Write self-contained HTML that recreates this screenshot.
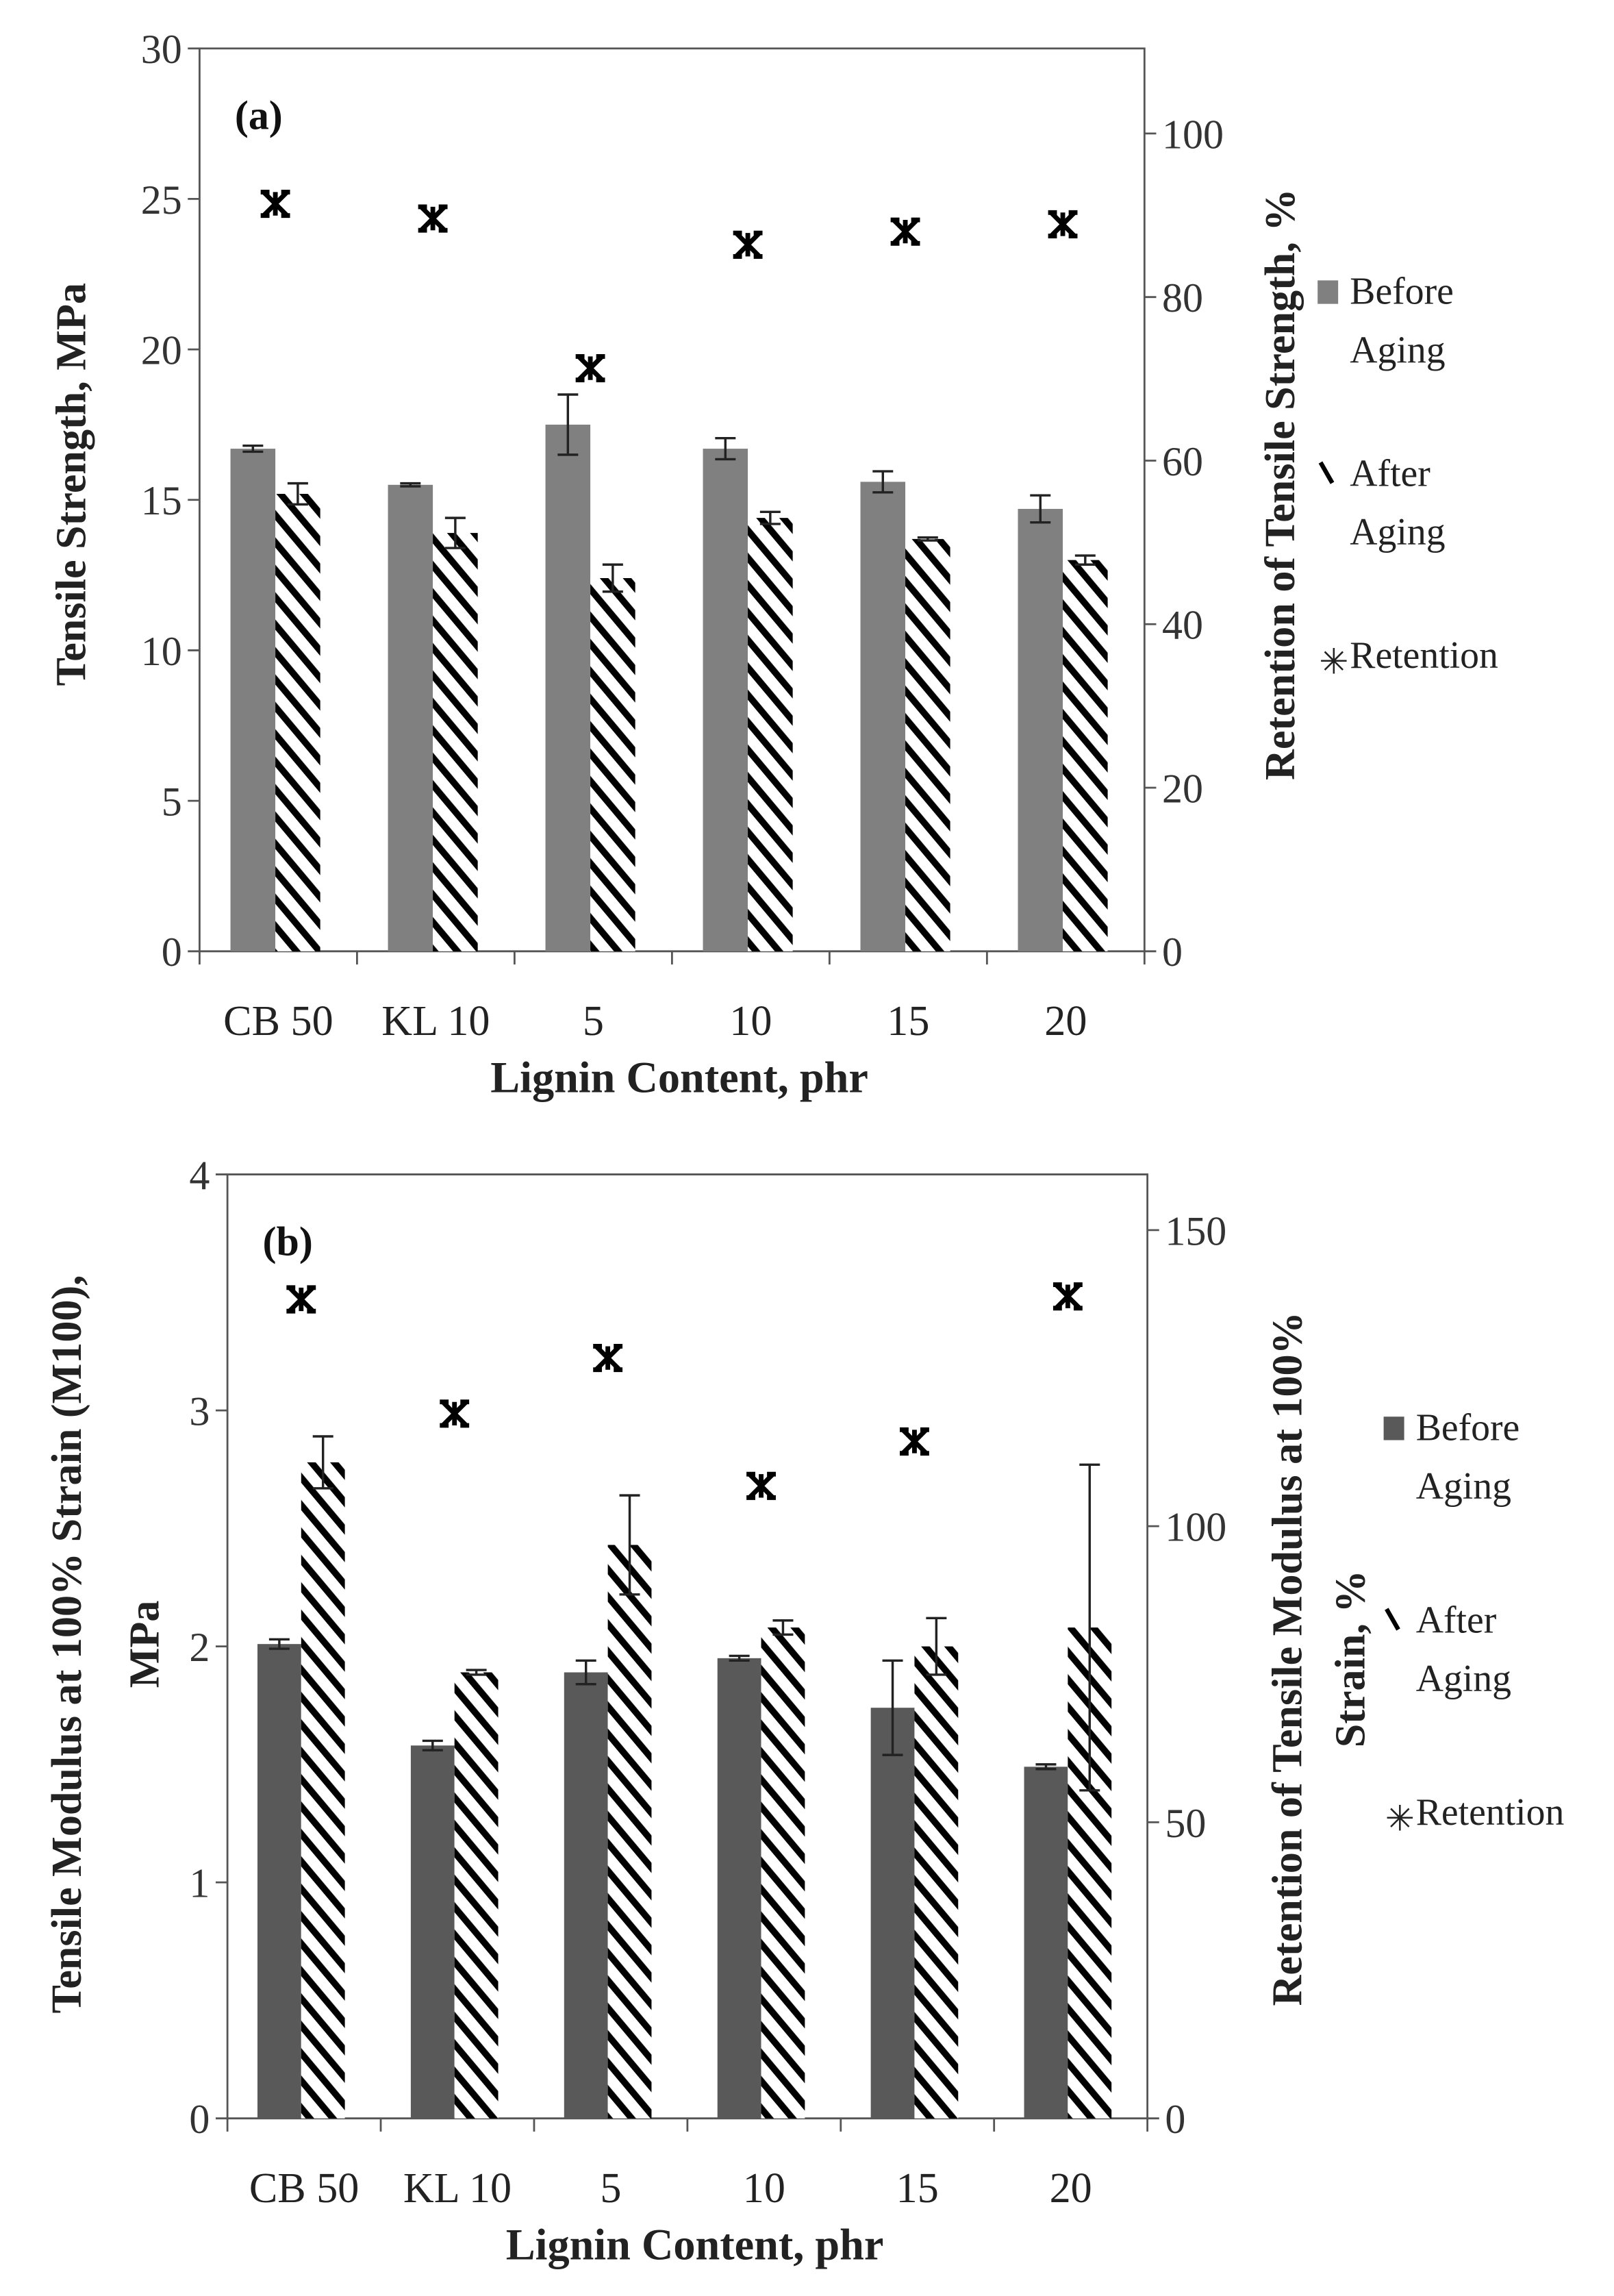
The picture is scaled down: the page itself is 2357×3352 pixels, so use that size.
<!DOCTYPE html>
<html><head><meta charset="utf-8"><style>
html,body{margin:0;padding:0;background:#fff;}
svg{display:block;}
text{font-family:"Liberation Serif",serif;}
</style></head><body>
<svg id="chart" xmlns="http://www.w3.org/2000/svg" width="2357" height="3352" viewBox="0 0 1100 1564" preserveAspectRatio="none">
<defs>
<pattern id="hatch" patternUnits="userSpaceOnUse" width="12" height="12" patternTransform="rotate(-40)">
<rect width="12" height="12" fill="#fff"/><rect x="0" y="0" width="4.5" height="12" fill="#000"/>
</pattern>
</defs>
<g id="root"></g>
</svg>
<script>
const categories = ["CB 50","KL 10","5","10","15","20"];
const beforeA = [16.7,15.5,17.5,16.7,15.6,14.7];
const beforeErrA = [0.1,0.05,1.0,0.35,0.35,0.45];
const afterA = [15.2,13.9,12.4,14.4,13.7,13.0];
const afterErrA = [0.35,0.5,0.45,0.2,0.05,0.15];
const retentionA = [91.4,89.6,71.3,86.4,88.0,88.9];
const leftTicksA = [0,5,10,15,20,25,30];
const rightTicksA = [0,20,40,60,80,100];
const beforeB = [2.01,1.58,1.89,1.95,1.74,1.49];
const beforeErrB = [0.02,0.02,0.05,0.01,0.2,0.01];
const afterB = [2.78,1.89,2.43,2.08,2.0,2.08];
const afterErrB = [0.11,0.01,0.21,0.03,0.12,0.69];
const retentionB = [138.3,119,128.4,106.8,114.3,138.8];
const leftTicksB = [0,1,2,3,4];
const rightTicksB = [0,50,100,150];

const NS="http://www.w3.org/2000/svg";
const root=document.getElementById('root');
function el(tag,attrs,parent,txt){const e=document.createElementNS(NS,tag);for(const k in attrs)e.setAttribute(k,attrs[k]);if(txt!==undefined)e.textContent=txt;(parent||root).appendChild(e);return e;}

function star(g,x,y){
  const s=8;
  const p=el('path',{d:`M${x-s} ${y-s}L${x+s} ${y+s}M${x+s} ${y-s}L${x-s} ${y+s}M${x} ${y-s}L${x} ${y+s}M${x-s-2} ${y-s}L${x-s+4} ${y-s}M${x+s-4} ${y-s}L${x+s+2} ${y-s}M${x-s-2} ${y+s}L${x-s+4} ${y+s}M${x+s-4} ${y+s}L${x+s+2} ${y+s}`,stroke:'#000','stroke-width':3.2,fill:'none'},g);
  
  
}

function drawChart(cfg){
  const g=el('g',{});
  
  
  const {L,R,T,B,lmax,rmax}=cfg;
  const yL=v=>B-(v/lmax)*(B-T);
  const yR=v=>B-(v/rmax)*(B-T);
  const bw=(R-L)/categories.length;
  const cx=i=>L+bw*(i+0.5);
  const fr=el('path',{d:`M${L} ${B}L${L} ${T}L${R} ${T}L${R} ${B}L${L} ${B}`,stroke:'#555','stroke-width':1.3,fill:'none'},g);
  
  cfg.lt.forEach(v=>{
    el('line',{x1:L-8,x2:L,y1:yL(v),y2:yL(v),stroke:'#555','stroke-width':1.3},g);
    const t=el('text',{x:L-12,y:yL(v)+10,'text-anchor':'end','font-size':28,fill:'#333'},g,String(v));
    
  });
  cfg.rt.forEach(v=>{
    el('line',{x1:R,x2:R+8,y1:yR(v),y2:yR(v),stroke:'#555','stroke-width':1.3},g);
    const t=el('text',{x:R+12,y:yR(v)+10,'text-anchor':'start','font-size':28,fill:'#333'},g,String(v));
    
  });
  for(let i=0;i<=categories.length;i++){
    el('line',{x1:L+bw*i,x2:L+bw*i,y1:B,y2:B+9,stroke:'#555','stroke-width':1.3},g);
  }
  categories.forEach((c,i)=>{
    const t=el('text',{x:cx(i),y:B+57,'text-anchor':'middle','font-size':29,fill:'#222'},g,c);
    
  });
  const w=bw*0.285;
  cfg.before.forEach((v,i)=>{
    const x=cx(i)-w-2;
    const r=el('rect',{x:x,y:yL(v),width:w,height:B-yL(v),fill:cfg.beforeColor},g);
    
    const e=cfg.beforeErr[i],ex=x+w/2;
    el('path',{d:`M${ex} ${yL(v+e)}L${ex} ${yL(v-e)}M${ex-7} ${yL(v+e)}L${ex+7} ${yL(v+e)}M${ex-7} ${yL(v-e)}L${ex+7} ${yL(v-e)}`,stroke:'#222','stroke-width':1.6,fill:'none'},g);
  });
  cfg.after.forEach((v,i)=>{
    const x=cx(i)-2;
    const r=el('rect',{x:x,y:yL(v),width:w,height:B-yL(v),fill:'url(#hatch)'},g);
    
    const e=cfg.afterErr[i],ex=x+w/2;
    el('path',{d:`M${ex} ${yL(v+e)}L${ex} ${yL(v-e)}M${ex-7} ${yL(v+e)}L${ex+7} ${yL(v+e)}M${ex-7} ${yL(v-e)}L${ex+7} ${yL(v-e)}`,stroke:'#222','stroke-width':1.6,fill:'none'},g);
  });
  cfg.ret.forEach((v,i)=>star(g,cx(i)-2,yR(v)));
  const lab=el('text',{x:L+24,y:T+55,'font-size':28,'font-weight':'bold',fill:'#111'},g,cfg.label);
  
  const xt=el('text',{x:(L+R)/2+5,y:B+96,'text-anchor':'middle','font-size':30,'font-weight':'bold',fill:'#222'},g,'Lignin Content, phr');
  
  cfg.ltitle.forEach((s,k)=>{
    const t=el('text',{x:0,y:0,'text-anchor':'middle','font-size':cfg.tfs,'font-weight':'bold',fill:'#222',transform:`translate(${cfg.ltx[k]},${cfg.lty}) rotate(-90)`},g,s);
    
  });
  cfg.rtitle.forEach((s,k)=>{
    const t=el('text',{x:0,y:0,'text-anchor':'middle','font-size':cfg.tfs,'font-weight':'bold',fill:'#222',transform:`translate(${cfg.rtx[k]},${cfg.rty}) rotate(-90)`},g,s);
    
  });
  const lg=el('g',{},g);
  
  const [lx,ly]=cfg.leg;
  el('rect',{x:lx,y:ly-16,width:14,height:16,fill:cfg.beforeColor},lg);
  el('text',{x:lx+22,y:ly,'font-size':26,fill:'#222'},lg,'Before');
  el('text',{x:lx+22,y:ly+40,'font-size':26,fill:'#222'},lg,'Aging');
  el('path',{d:`M${lx+2} ${ly+cfg.lgap-16}L${lx+10} ${ly+cfg.lgap-2}`,stroke:'#000','stroke-width':3},lg);
  el('text',{x:lx+22,y:ly+cfg.lgap,'font-size':26,fill:'#222'},lg,'After');
  el('text',{x:lx+22,y:ly+cfg.lgap+40,'font-size':26,fill:'#222'},lg,'Aging');
  el('text',{x:lx+1,y:ly+cfg.lgap*2+4,'font-size':24,fill:'#222'},lg,'\u2733');
  el('text',{x:lx+22,y:ly+cfg.lgap*2,'font-size':26,fill:'#222'},lg,'Retention');
}

drawChart({name:'chart-a-tensile-strength',L:136,R:780,T:33,B:648,lmax:30,rmax:110.4,lt:leftTicksA,rt:rightTicksA,
  before:beforeA,beforeErr:beforeErrA,after:afterA,afterErr:afterErrA,ret:retentionA,beforeColor:'#808080',label:'(a)',tfs:29,
  ltitle:['Tensile Strength, MPa'],ltx:[58],lty:330,rtitle:['Retention of Tensile Strength, %'],rtx:[882],rty:330,leg:[898,207],lgap:124});
drawChart({name:'chart-b-tensile-modulus',L:155,R:782,T:800,B:1443,lmax:4,rmax:159.4,lt:leftTicksB,rt:rightTicksB,
  before:beforeB,beforeErr:beforeErrB,after:afterB,afterErr:afterErrB,ret:retentionB,beforeColor:'#595959',label:'(b)',tfs:29,
  ltitle:['Tensile Modulus at 100% Strain (M100),','MPa'],ltx:[55,108],lty:1120,rtitle:['Retention of Tensile Modulus at 100%','Strain, %'],rtx:[887,930],rty:1130,leg:[943,981],lgap:131});
</script>
</body></html>
